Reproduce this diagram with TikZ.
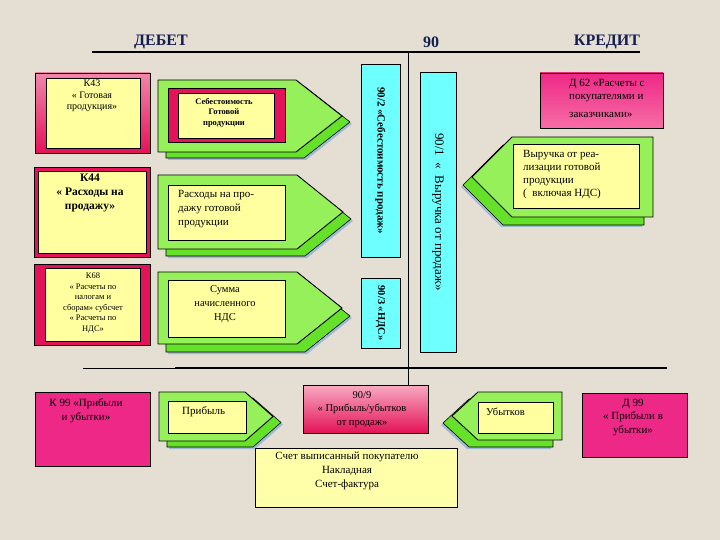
\documentclass[tikz,border=0pt]{standalone}
\usepackage{fontspec}
\setmainfont{Liberation Serif}
\usetikzlibrary{fit,calc}
\definecolor{bg}{RGB}{229,223,211}
\definecolor{yel}{RGB}{255,255,160}
\definecolor{yelS}{RGB}{255,255,170}
\definecolor{cyanb}{RGB}{110,255,255}
\definecolor{crim}{RGB}{228,18,88}
\definecolor{mag}{RGB}{238,40,135}
\definecolor{pinkT}{RGB}{240,135,170}
\definecolor{pinkB}{RGB}{246,110,165}
\definecolor{pinkN}{RGB}{248,170,195}
\definecolor{gfront}{RGB}{150,240,90}
\definecolor{gback}{RGB}{100,225,40}
\definecolor{navy}{RGB}{20,30,80}
\definecolor{shblue}{RGB}{160,185,215}
\tikzset{
  bx/.style={inner sep=0pt, outer sep=0pt},
  yb/.style={bx, draw=black, line width=0.5pt, fill=yel},
  cy/.style={bx, draw=black, line width=0.7pt, fill=cyanb},
  tx/.style={inner sep=0pt, align=center, text=black},
  gf/.style={fill=gfront, draw=black, line width=0.9pt, line join=miter},
  gb/.style={fill=gback, draw=black, line width=0.6pt},
  gs/.style={fill=shblue},
  head/.style={font=\fontsize{16}{18}\selectfont\bfseries, text=navy, inner sep=0pt},
}
\newcommand\GArrow[9]{%
  \fill[gs,shift={(#8,#9)}] (#1,#2) -- (#3,#2) -- (#4,{(#2+#5)/2}) -- (#3,#5) -- (#1,#5) -- cycle;
  \filldraw[gb,shift={(#6,#7)}] (#1,#2) -- (#3,#2) -- (#4,{(#2+#5)/2}) -- (#3,#5) -- (#1,#5) -- cycle;
  \filldraw[gf] (#1,#2) -- (#3,#2) -- (#4,{(#2+#5)/2}) -- (#3,#5) -- (#1,#5) -- cycle;
}
\begin{document}
\begin{tikzpicture}[x=1pt,y=-1pt]
\fill[bg] (0,0) rectangle (720,540);
\useasboundingbox (0,0) rectangle (720,540);

% headings
\node[head] (deb) at (161,42) {ДЕБЕТ};
\node[head] (n90) at (431,42) {90};
\node[head] (kred) at (607,42) {КРЕДИТ};

% 90/9 box (needed for the vertical line)
\node[bx, fit={(303,385) (428,433)}, draw=black, line width=0.5pt, top color=pinkN, bottom color=crim] (n909) {};
\node[tx, font=\fontsize{10.5}{13.5}\selectfont, anchor=north] (n909t) at (362,391) {90/9\\« Прибыль/убытков\\от продаж»};

% T-account lines
\coordinate (tl) at (92,52); \coordinate (tr) at (640,52);
\coordinate (bl) at (83,368); \coordinate (bm) at (175,368); \coordinate (br) at (667,368);
\coordinate (vt) at (408,52);
\draw[line width=2pt] (tl) -- (tr);
\draw[line width=0.8pt] (bl) -- (bm);
\draw[line width=2pt] (bm) -- (br);
\draw[line width=0.8pt] (vt) -- (vt |- n909.north);

% left account boxes
\node[bx, fit={(35,73) (150,153)}, draw=black, line width=0.6pt, top color=pinkT, bottom color=crim] (k43) {};
\node[yb, fit={(46,78) (140,148)}] (k43i) {};
\node[tx, font=\fontsize{10}{11.5}\selectfont, anchor=north] (k43t) at (92,80) {К43\\« Готовая\\продукция»};

\node[bx, fit={(34,167) (150,257)}, fill=crim, draw=black, line width=0.5pt] (k44) {};
\node[yb, fit={(38,171) (146,253)}] (k44i) {};
\node[tx, font=\fontsize{11.5}{14}\selectfont\bfseries, anchor=north] (k44t) at (90,174) {К44\\« Расходы на\\продажу»};

\node[bx, fit={(34,264) (150,345)}, fill=crim, draw=black, line width=0.5pt] (k68) {};
\node[yb, fit={(45,268) (140,341)}] (k68i) {};
\node[tx, font=\fontsize{8.5}{10.5}\selectfont, anchor=north] (k68t) at (93,273) {К68\\« Расчеты по\\налогам и\\сборам» субсчет\\« Расчеты по\\НДС»};

\node[bx, fit={(35,392) (150,466)}, fill=mag, draw=black, line width=0.6pt] (k99) {};
\node[tx, font=\fontsize{11}{14}\selectfont, anchor=north] (k99t) at (86,398) {К 99 «Прибыли\\и убытки»};

% green arrows, debit side
\GArrow{158}{80}{296}{342}{152}{8}{6}{10}{8}
\node[bx, fit={(168,88) (285,142)}, fill=crim, draw=black, line width=0.5pt] (a1f) {};
\node[yb, fit={(178,93) (274,138)}] (a1i) {};
\node[tx, font=\fontsize{8.5}{10.5}\selectfont\bfseries, anchor=north] (a1t) at (224,98) {Себестоимость\\Готовой\\продукции};

\GArrow{158}{175}{297}{343}{249}{8}{7}{10}{9}
\node[yb, fit={(168,185) (285,240)}] (a2i) {};
\node[tx, align=left, font=\fontsize{11}{14}\selectfont, anchor=north west] (a2t) at (178,190) {Расходы на про-\\дажу готовой\\продукции};

\GArrow{158}{272}{297}{342}{344}{8}{8}{10}{10}
\node[yb, fit={(168,280) (285,337)}] (a3i) {};
\node[tx, font=\fontsize{10.5}{14}\selectfont, anchor=north] (a3t) at (225,285) {Сумма\\начисленного\\НДС};

\GArrow{159}{392}{245}{273}{441}{8}{6}{10}{8}
\node[yb, fit={(168,401) (246,433)}] (a4i) {};
\node[tx, font=\fontsize{11}{12}\selectfont, anchor=west] (a4t) at (182,412) {Прибыль};

% credit side
\GArrow{653}{137}{512}{472}{217}{-9}{8}{-11}{10}
\node[yb, fit={(513,144) (639,208)}] (a5i) {};
\node[tx, align=left, font=\fontsize{11}{13}\selectfont, anchor=north west] (a5t) at (523,150) {Выручка от реа-\\лизации готовой\\продукции\\(\ \ включая НДС)};

\GArrow{562}{392}{478}{452}{440}{-9}{7}{-11}{9}
\node[yb, fit={(478,402) (553,433)}] (a6i) {};
\node[tx, font=\fontsize{10.5}{12}\selectfont, anchor=west] (a6t) at (486,412) {Убытков};

\node[bx, fit={(540,73) (663,128)}, draw=black, line width=0.6pt, top color=mag, bottom color=pinkB] (d62) {};
\node[tx, align=left, font=\fontsize{11}{13}\selectfont, anchor=north west] (d62t) at (569,79) {Д 62 «Расчеты с\\покупателями и\\[5pt]заказчиками»};

\node[bx, fit={(582,393) (687,457)}, fill=mag, draw=black, line width=0.6pt] (d99) {};
\node[tx, font=\fontsize{11}{13.5}\selectfont, anchor=north] (d99t) at (633,399) {Д 99\\« Прибыли в\\убытки»};

% cyan sub-accounts
\node[cy, fit={(361,64) (400,257)}] (c902) {};
\node[tx, rotate=-90, font=\fontsize{11}{13}\selectfont\bfseries] (c902t) at (c902.center) {90/2 «Себестоимость продаж»};
\node[cy, fit={(361,278) (400,348)}] (c903) {};
\node[tx, rotate=-90, font=\fontsize{10.5}{12}\selectfont\bfseries] (c903t) at (c903.center) {90/3 «НДС»};
\node[cy, fit={(420,72) (456,352)}] (c901) {};
\node[tx, rotate=-90, font=\fontsize{13}{15}\selectfont] (c901t) at (c901.center) {90/1\ \ «\ \ Выручка от продаж»};

% documents box
\node[bx, fit={(255,448) (457,507)}, fill=yelS, draw=black, line width=0.6pt] (doc) {};
\node[tx, font=\fontsize{11}{14}\selectfont, anchor=north] (doct) at (347,452) {Счет выписанный покупателю\\Накладная\\Счет-фактура};
\end{tikzpicture}
\end{document}
